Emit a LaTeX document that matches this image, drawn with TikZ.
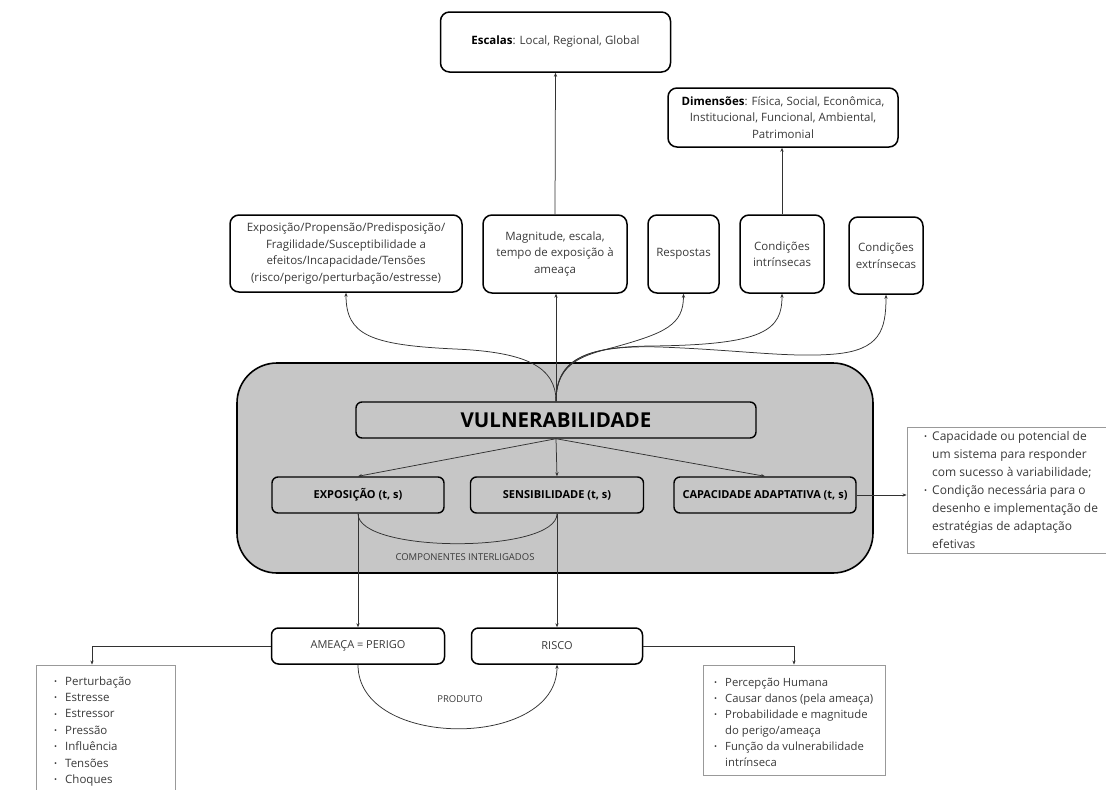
\documentclass[tikz,border=0pt]{standalone}
\usepackage{fontspec}
\setmainfont{Open Sans}
\usetikzlibrary{arrows.meta}

\definecolor{panelgray}{RGB}{198,198,198}
\definecolor{ink}{RGB}{58,58,58}
\definecolor{wire}{RGB}{50,50,50}

\newcommand{\bdot}{\raisebox{0.15ex}{\fontsize{8}{8}\selectfont\textbullet}}

\tikzset{
  box/.style={draw=black, line width=1.5pt, rounded corners=9pt, fill=white,
    align=center, text=ink, inner sep=0pt,
    font=\fontsize{11.5}{16.5}\selectfont},
  inbox/.style={draw=black, line width=1.4pt, rounded corners=6pt, fill=panelgray,
    align=center, text=black, inner sep=0pt,
    font=\fontsize{11}{13}\selectfont\bfseries},
  panelbox/.style={draw=black, line width=1.6pt, rounded corners=40pt, fill=panelgray, inner sep=0pt},
  listbox/.style={draw=black!40, line width=0.9pt, inner sep=0pt},
  listtext/.style={anchor=north west, inner sep=0pt, text=ink, align=left},
  link/.style={draw=wire, line width=0.75pt, -{Stealth[length=4pt,width=3.2pt]}},
  plain/.style={draw=wire, line width=0.75pt},
  note/.style={text=ink, inner sep=0pt, font=\fontsize{9.5}{11}\selectfont},
}

\begin{document}
\begin{tikzpicture}[x=1pt,y=-1pt]
\useasboundingbox (0,0) rectangle (1106,790);
\fill[white] (0,0) rectangle (1106,790);

% upper level: scales and dimensions
\node[box, minimum width=230, minimum height=60] (esc) at (555.5,42)
  {\textcolor{black}{\bfseries Escalas}: Local, Regional, Global};
\node[box, minimum width=230, minimum height=59] (dim) at (783,117.5)
  {\textcolor{black}{\bfseries Dimensões}: Física, Social, Econômica,\\Institucional, Funcional, Ambiental,\\Patrimonial};

% row of aspects
\node[box, minimum width=232, minimum height=77] (b1) at (346,253.5)
  {Exposição/Propensão/Predisposição/\\Fragilidade/Susceptibilidade a\\efeitos/Incapacidade/Tensões\\(risco/perigo/perturbação/estresse)};
\node[box, minimum width=144, minimum height=78] (mag) at (555,254)
  {Magnitude, escala,\\tempo de exposição à\\ameaça};
\node[box, minimum width=71, minimum height=78] (resp) at (683.5,254) {Respostas};
\node[box, minimum width=84, minimum height=78] (cint) at (782,254) {Condições\\intrínsecas};
\node[box, minimum width=74, minimum height=77] (cext) at (886,255.5) {Condições\\extrínsecas};

% central panel
\node[panelbox, minimum width=636, minimum height=210] (panel) at (555,468) {};
\node[inbox, minimum width=400, minimum height=36, font=\fontsize{20.5}{22}\selectfont\bfseries] (vul) at (556,420) {VULNERABILIDADE};
\node[inbox, minimum width=172, minimum height=36] (exp) at (358,495) {EXPOSIÇÃO (t, s)};
\node[inbox, minimum width=173, minimum height=36] (sen) at (557,495) {SENSIBILIDADE (t, s)};
\node[inbox, minimum width=182, minimum height=36] (cap) at (765,495) {CAPACIDADE ADAPTATIVA (t, s)};
\node[note] (comp) at (465,557) {COMPONENTES INTERLIGADOS};

% lower level
\node[box, rounded corners=7pt, minimum width=173, minimum height=36, font=\fontsize{11}{13}\selectfont] (ame) at (358,646) {AMEAÇA = PERIGO};
\node[box, rounded corners=7pt, minimum width=171, minimum height=36, font=\fontsize{11}{13}\selectfont] (ris) at (557,646) {RISCO};
\node[note] (prod) at (460,699) {PRODUTO};

% bullet lists
\node[listbox, minimum width=210, minimum height=126] (capbox) at (1012,490) {};
\node[listtext, font=\fontsize{12}{18}\selectfont] (capl) at (924,427.5) {%
  \begin{tabular}{@{}l@{\hspace{5pt}}l@{}}
  \bdot & Capacidade ou potencial de\\
        & um sistema para responder\\
        & com sucesso à variabilidade;\\
  \bdot & Condição necessária para o\\
        & desenho e implementação de\\
        & estratégias de adaptação\\
        & efetivas
  \end{tabular}};

\node[listbox, minimum width=139, minimum height=140] (haz) at (105.5,735) {};
\node[listtext, font=\fontsize{11.5}{16.4}\selectfont] (hazl) at (54,673.5) {%
  \begin{tabular}{@{}l@{\hspace{8pt}}l@{}}
  \bdot & Perturbação\\
  \bdot & Estresse\\
  \bdot & Estressor\\
  \bdot & Pressão\\
  \bdot & Influência\\
  \bdot & Tensões\\
  \bdot & Choques
  \end{tabular}};

\node[listbox, minimum width=182, minimum height=110] (rsk) at (794,720) {};
\node[listtext, font=\fontsize{11.3}{16}\selectfont] (rskl) at (714,674.8) {%
  \begin{tabular}{@{}l@{\hspace{8pt}}l@{}}
  \bdot & Percepção Humana\\
  \bdot & Causar danos (pela ameaça)\\
  \bdot & Probabilidade e magnitude\\
        & do perigo/ameaça\\
  \bdot & Função da vulnerabilidade\\
        & intrínseca
  \end{tabular}};

% connectors at the top
\draw[link] (mag.north) -- (esc.south);
\draw[link] (cint.north) -- (cint.north |- dim.south);
\draw[link] (vul.north) -- (vul.north |- mag.south);
\draw[link] (vul.north) .. controls +(0,-35) and (525,352) .. (455,349)
  .. controls (370,345) and (346,335) .. (b1.south);
\draw[link] (vul.north) .. controls +(0,-40) and (585,355) .. (615,347)
  .. controls (665,333) and (683.5,325) .. (resp.south);
\draw[link] (vul.north) .. controls +(0,-42) and (585,347) .. (650,346)
  .. controls (765,345) and (782,330) .. (cint.south);
\draw[link] (vul.north) .. controls +(0,-44) and (590,345) .. (660,347)
  .. controls (740,350) and (790,358) .. (835,354)
  .. controls (880,350) and (886,330) .. (cext.south);

% connectors inside the panel
\draw[link] (vul.south) -- (exp.north);
\draw[link] (vul.south) -- (sen.north);
\draw[link] (vul.south) -- (cap.north);
\draw[plain] (exp.south) .. controls +(0,40) and +(0,40) .. (sen.south);
\draw[link] (cap.east) -- (cap.east -| capbox.west);

% connectors below
\draw[link] (exp.south) -- (ame.north);
\draw[link] (sen.south) -- (ris.north);
\draw[link] (ame.west) -| ([xshift=-13.5pt]haz.north);
\draw[link] (ris.east) -| (rsk.north);
\draw[link] (ame.south) .. controls +(0,85) and +(0,85) .. (ris.south);
\end{tikzpicture}
\end{document}
